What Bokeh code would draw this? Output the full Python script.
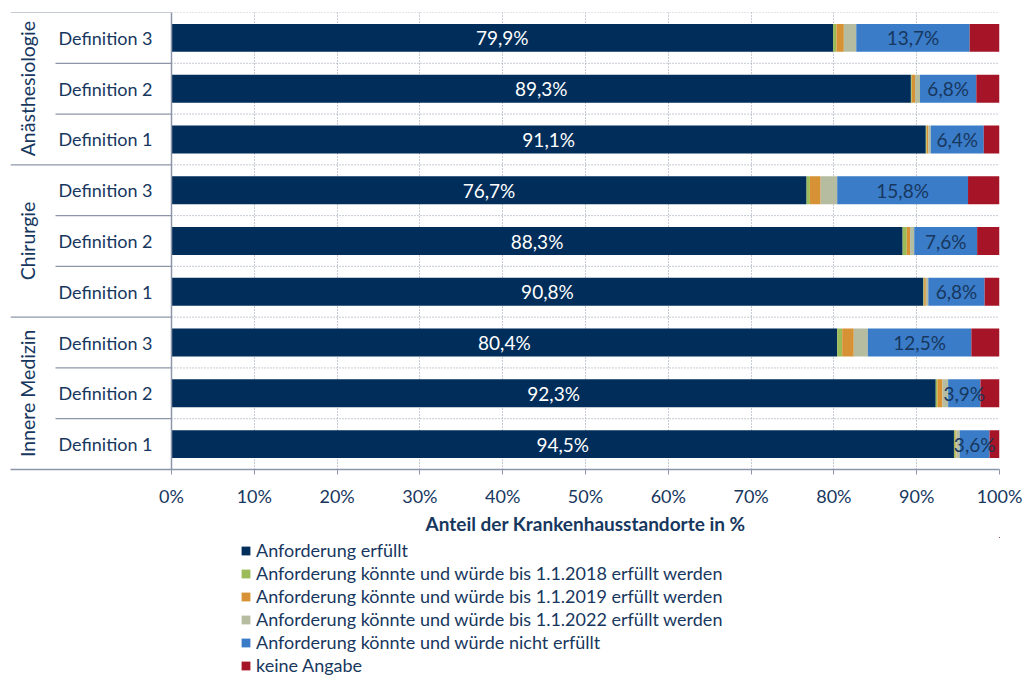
from bokeh.plotting import figure
from bokeh.layouts import column
from bokeh.models import (ColumnDataSource, Range1d, FixedTicker, Span, Legend, LegendItem, Title)
from bokeh.core.properties import value
from bokeh.embed import file_html
from bokeh.resources import INLINE

# ---------------- data ----------------
groups = ["Anästhesiologie", "Chirurgie", "Innere Medizin"]
definitions = ["Definition 3", "Definition 2", "Definition 1"]

series_names = [
    "Anforderung erfüllt",
    "Anforderung könnte und würde bis 1.1.2018 erfüllt werden",
    "Anforderung könnte und würde bis 1.1.2019 erfüllt werden",
    "Anforderung könnte und würde bis 1.1.2022 erfüllt werden",
    "Anforderung könnte und würde nicht erfüllt",
    "keine Angabe",
]
# rows top -> bottom: An D3, An D2, An D1, Ch D3, Ch D2, Ch D1, IM D3, IM D2, IM D1
erfuellt = [79.9, 89.3, 91.1, 76.7, 88.3, 90.8, 80.4, 92.3, 94.5]
bis_2018 = [0.4, 0.1, 0.1, 0.4, 0.5, 0.1, 0.6, 0.2, 0.2]
bis_2019 = [0.9, 0.4, 0.2, 1.3, 0.4, 0.2, 1.4, 0.6, 0.1]
bis_2022 = [1.5, 0.6, 0.3, 2.0, 0.5, 0.3, 1.7, 0.7, 0.4]
nicht = [13.7, 6.8, 6.4, 15.8, 7.6, 6.8, 12.5, 3.9, 3.6]
keine = [3.6, 2.8, 1.9, 3.8, 2.7, 1.8, 3.4, 2.3, 1.2]

tick_values = [0, 10, 20, 30, 40, 50, 60, 70, 80, 90, 100]
tick_labels = ["0%", "10%", "20%", "30%", "40%", "50%", "60%", "70%", "80%", "90%", "100%"]
x_title = "Anteil der Krankenhausstandorte in %"

# ---------------- styles ----------------
colors = ["#002D5A", "#9BBB59", "#D69234", "#B6BC9F", "#3A7CC8", "#A51427"]
navy = "#17375E"
rule = "#8D96A8"
FONT = "Lato"

n = len(erfuellt)
ys = [n - 1 - i for i in range(n)]  # top row has highest y
keys = ["s0", "s1", "s2", "s3", "s4", "s5"]
series = [erfuellt, bis_2018, bis_2019, bis_2022, nicht, keine]
data = {"y": ys}
for k, s in zip(keys, series):
    data[k] = s
src = ColumnDataSource(data)

# pixel geometry: frame from x=10 to 999, value 0 at x=171
W = 1025
FL, FR, FT, FB = 10, 999, 12, 469
CHART_H = 537
px_per_unit = (FR - 171) / 100.0
x_left = (FL - 171) / px_per_unit

p = figure(frame_width=FR - FL, frame_height=FB - FT, output_backend="svg", toolbar_location=None,
           x_range=Range1d(x_left, 100), y_range=Range1d(-0.5, n - 0.5),
           min_border_left=FL, min_border_right=W - FR, min_border_top=FT,
           min_border_bottom=CHART_H - FB)
p.outline_line_color = None
p.background_fill_color = "white"
p.border_fill_color = "white"
p.yaxis.visible = False
p.ygrid.visible = False

# vertical dotted gridlines
p.xgrid.ticker = FixedTicker(ticks=tick_values[1:])
p.xgrid.grid_line_color = rule
p.xgrid.grid_line_dash = "1 2"
p.xgrid.grid_line_width = 1

# horizontal dotted lines between rows (plot area)
bounds = [k + 0.5 for k in range(n)]
p.segment(x0=[0] * n, x1=[100] * n, y0=bounds, y1=bounds, line_color=rule,
          line_dash="1 2", line_width=1)

# left label area separators
def_x0 = (55 - 171) / px_per_unit
grp_b = [n - 0.5, n - 3.5, n - 6.5]
def_b = [b for b in bounds if b not in grp_b]
p.segment(x0=[x_left] * len(grp_b), x1=[0] * len(grp_b), y0=grp_b, y1=grp_b,
          line_color=rule, line_width=1.2)
p.segment(x0=[def_x0] * len(def_b), x1=[0] * len(def_b), y0=def_b, y1=def_b,
          line_color=rule, line_width=1.2)
p.add_layout(Span(location=0, dimension="height", line_color=rule, line_width=1.5))

# bars
rends = p.hbar_stack(keys, y="y", height=0.55, color=colors, source=src, line_color=None)

# value labels
lab_x_dark = [e / 2 for e in erfuellt]
lab_x_blue = [e + a + b + c + d / 2 for e, a, b, c, d in zip(erfuellt, bis_2018, bis_2019, bis_2022, nicht)]
fmt = lambda v: ("%.1f" % v).replace(".", ",") + "%"
p.text(x=lab_x_dark, y=ys, text=[fmt(v) for v in erfuellt], text_color="white",
       text_align="center", text_baseline="middle", text_font=value(FONT), text_font_size="19px")
p.text(x=lab_x_blue, y=ys, text=[fmt(v) for v in nicht], text_color=navy,
       text_align="center", text_baseline="middle", text_font=value(FONT), text_font_size="19px")

# category labels
cat_x = (105 - 171) / px_per_unit
p.text(x=[cat_x] * n, y=ys, text=definitions * len(groups), text_color=navy,
       text_align="center", text_baseline="middle", text_font=value(FONT), text_font_size="18px")
grp_x = (27 - 171) / px_per_unit
grp_y = [n - 2, n - 5, n - 8]
p.text(x=[grp_x] * 3, y=grp_y, text=groups, angle=1.5708, text_color=navy,
       text_align="center", text_baseline="middle", text_font=value(FONT), text_font_size="19.5px")

# x axis
xa = p.xaxis[0]
xa.ticker = FixedTicker(ticks=tick_values)
xa.major_label_overrides = dict(zip(tick_values, tick_labels))
xa.axis_line_color = rule
xa.axis_line_width = 1.5
xa.major_tick_line_color = rule
xa.major_tick_in = 0
xa.major_tick_out = 5
xa.minor_tick_line_color = None
xa.major_label_standoff = 10
xa.major_label_text_color = navy
xa.major_label_text_font = FONT
xa.major_label_text_font_size = "18px"

# axis title, centred under the 0-100 range
title = Title(text=x_title, align="left", offset=415,
              text_font=FONT, text_font_size="19px", text_font_style="bold",
              text_color=navy, standoff=0)
p.add_layout(title, "below")

# ---------------- legend panel (below the chart) ----------------
LEG_H = 677 - CHART_H
leg = figure(width=W, height=LEG_H, output_backend="svg", toolbar_location=None,
             x_axis_location=None, y_axis_location=None, min_border=0,
             x_range=Range1d(-30, -20), y_range=Range1d(-30, -20))
leg.outline_line_color = None
leg.grid.visible = False
# same stacked series; the ranges keep the bars out of view, only their legend swatches show
leg_rends = leg.hbar_stack(keys, y="y", height=0.55, color=colors, source=src, line_color=None)
legend = Legend(items=[LegendItem(label=nm, renderers=[r]) for nm, r in zip(series_names, leg_rends)],
                location=(230, 1), orientation="vertical",
                glyph_width=11, glyph_height=11,
                label_height=20, spacing=1, padding=0, margin=0, label_standoff=5,
                label_text_font=FONT, label_text_font_size="18px", label_text_color=navy,
                border_line_color=None, background_fill_alpha=0)
leg.add_layout(legend, "center")

layout = column(p, leg, spacing=0)
open("out.html", "w").write(file_html(layout, INLINE))
